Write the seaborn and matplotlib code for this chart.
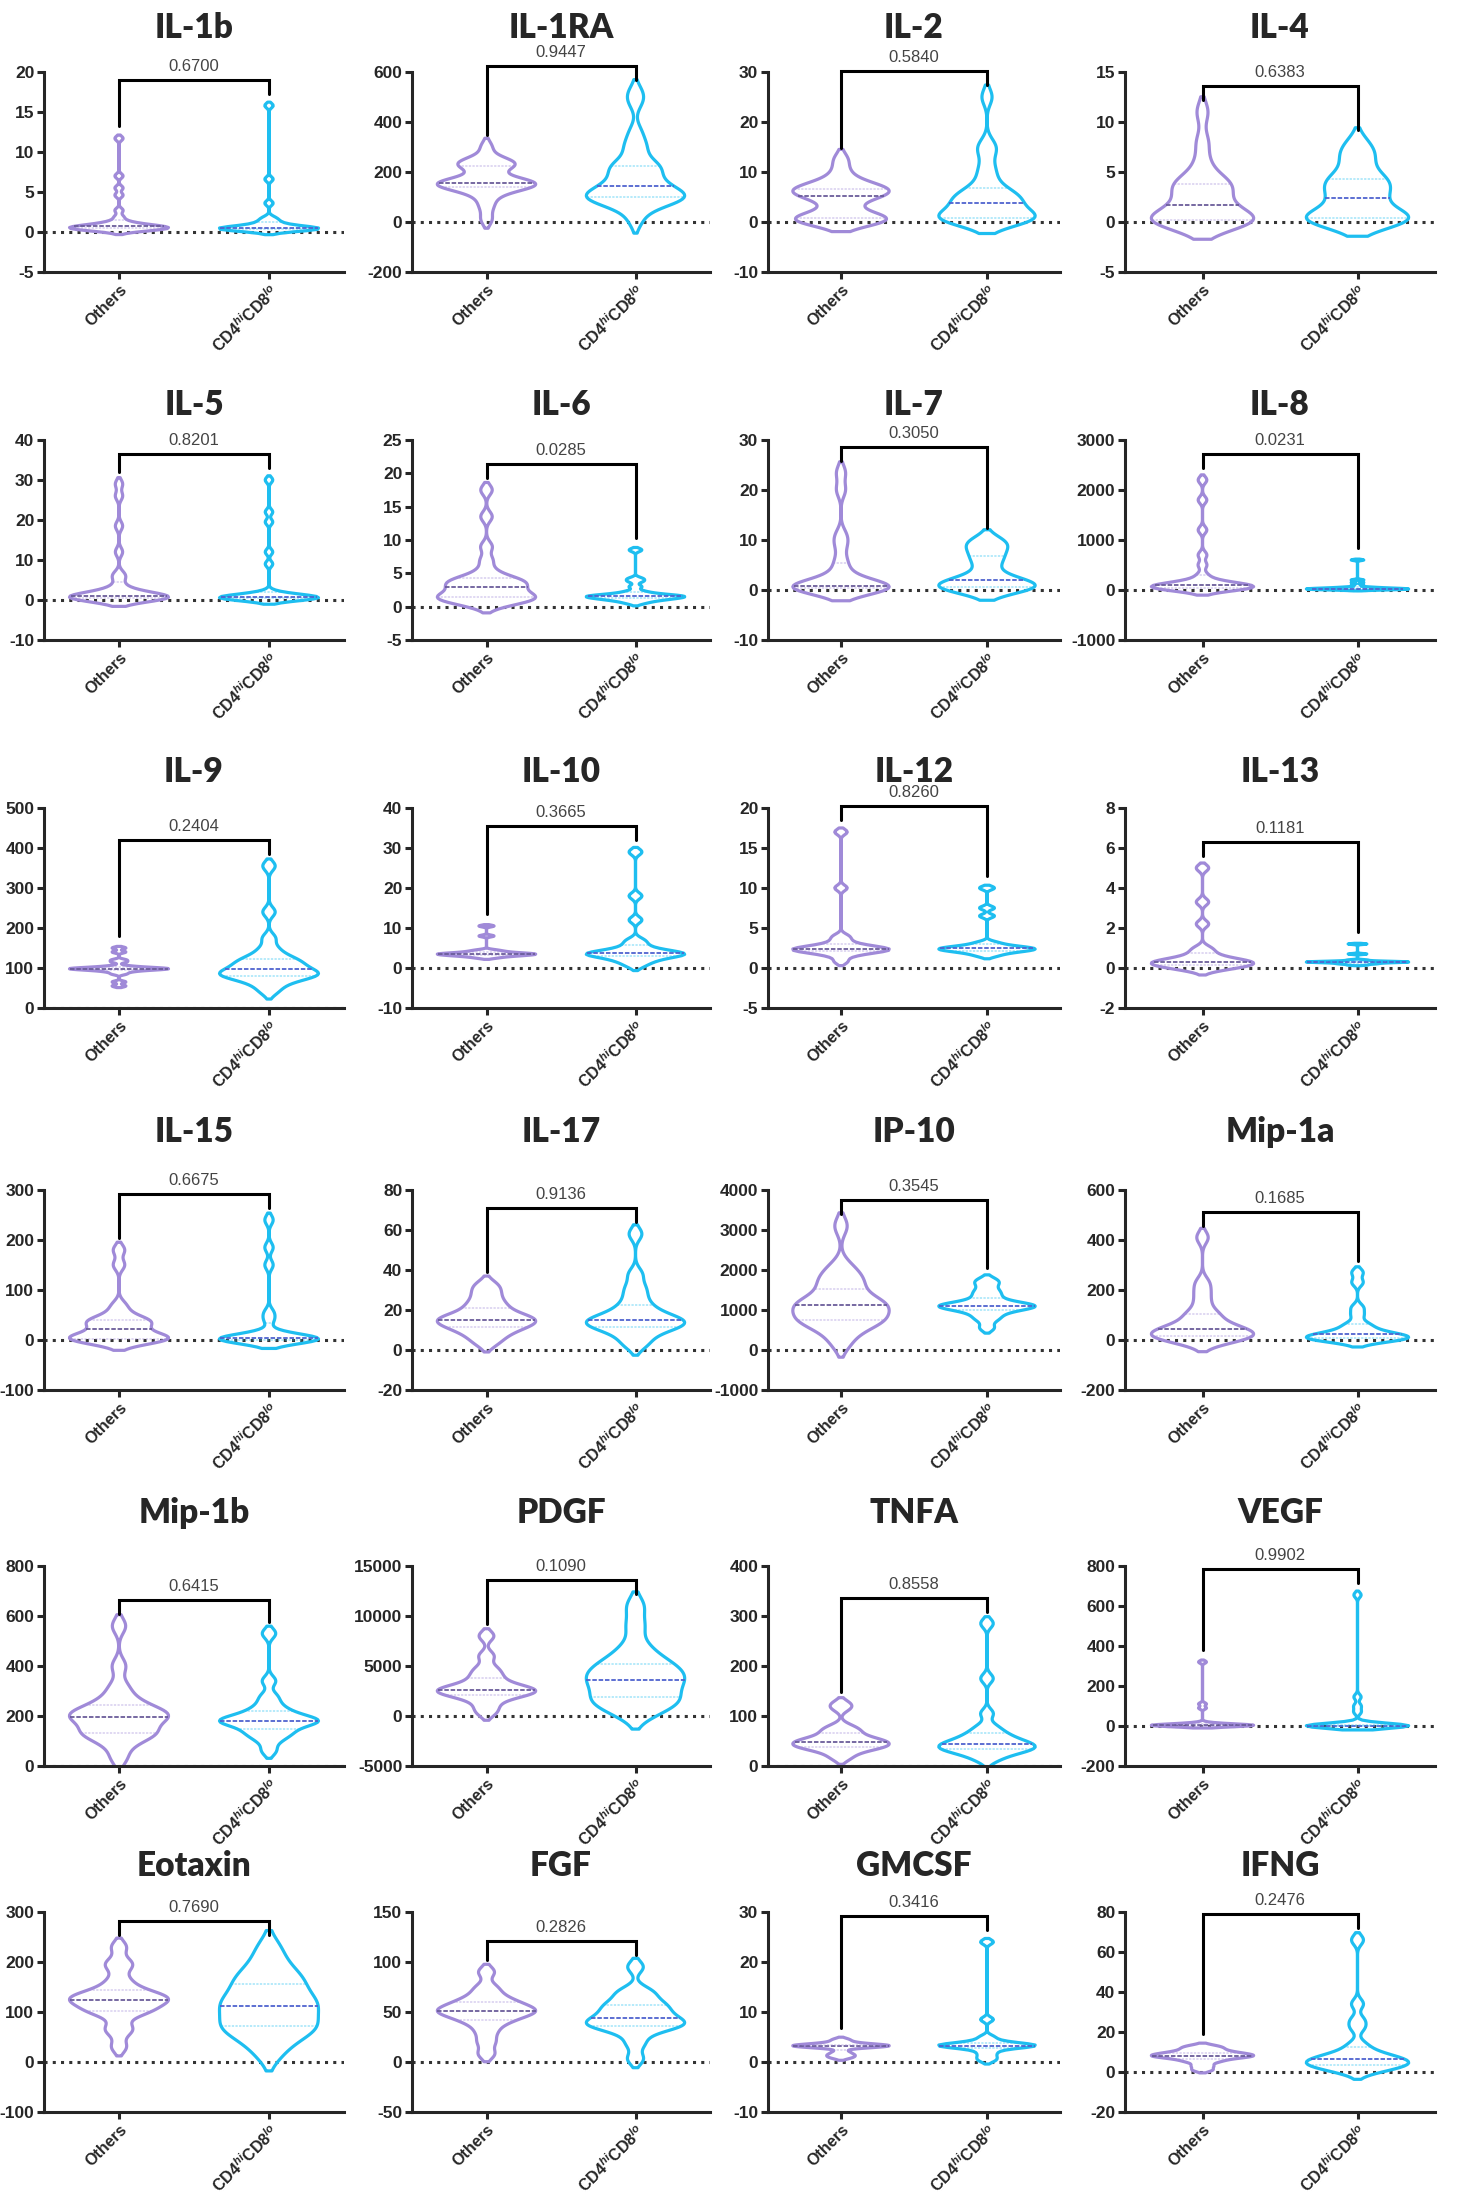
import numpy as np
import pandas as pd
import seaborn as sns
import matplotlib.pyplot as plt

# panels, left to right, top to bottom
names = ["IL-1b", "IL-1RA", "IL-2", "IL-4",
         "IL-5", "IL-6", "IL-7", "IL-8",
         "IL-9", "IL-10", "IL-12", "IL-13",
         "IL-15", "IL-17", "IP-10", "Mip-1a",
         "Mip-1b", "PDGF", "TNFA", "VEGF",
         "Eotaxin", "FGF", "GMCSF", "IFNG"]
pvals = ["0.6700", "0.9447", "0.5840", "0.6383",
         "0.8201", "0.0285", "0.3050", "0.0231",
         "0.2404", "0.3665", "0.8260", "0.1181",
         "0.6675", "0.9136", "0.3545", "0.1685",
         "0.6415", "0.1090", "0.8558", "0.9902",
         "0.7690", "0.2826", "0.3416", "0.2476"]
# (ymin, ymax, tick step)
yranges = [(-5, 20, 5), (-200, 600, 200), (-10, 30, 10), (-5, 15, 5),
           (-10, 40, 10), (-5, 25, 5), (-10, 30, 10), (-1000, 3000, 1000),
           (0, 500, 100), (-10, 40, 10), (-5, 20, 5), (-2, 8, 2),
           (-100, 300, 100), (-20, 80, 20), (-1000, 4000, 1000), (-200, 600, 200),
           (0, 800, 200), (-5000, 15000, 5000), (0, 400, 100), (-200, 800, 200),
           (-100, 300, 100), (-50, 150, 50), (-10, 30, 10), (-20, 80, 20)]
groups = ["Others", r"CD4$^{hi}$CD8$^{lo}$"]

others = [
    [0.1, 0.2, 0.3, 0.3, 0.4, 0.4, 0.5, 0.5, 0.5, 0.6, 0.6, 0.7, 0.7, 0.8, 0.9, 1.0, 1.1, 1.4, 1.9, 2.7, 4.6, 5.5, 7.0, 11.7],
    [10, 60, 95, 120, 135, 140, 145, 150, 150, 155, 158, 160, 165, 175, 215, 225, 230, 235, 240, 250, 300],
    [0.1, 0.2, 0.3, 0.5, 0.6, 0.8, 1.0, 2.5, 4.0, 5.0, 5.5, 5.8, 6.0, 6.2, 6.5, 7.0, 7.5, 8.0, 10.0, 12.5],
    [-0.2, 0, 0, 0, 0.1, 0.2, 0.3, 0.5, 1.0, 1.5, 1.9, 2.5, 3.0, 3.5, 3.8, 4.0, 4.5, 6.0, 8.0, 11.0],
    [0, 0.1, 0.2, 0.3, 0.4, 0.5, 0.6, 0.7, 0.8, 0.9, 1.0, 1.1, 1.3, 1.5, 2.0, 2.5, 3.5, 5.5, 6.5, 12.0, 18.5, 26.0, 29.0],
    [0.2, 0.5, 0.8, 1.0, 1.2, 1.3, 1.5, 1.6, 1.8, 2.0, 2.5, 2.9, 3.0, 3.2, 3.5, 3.8, 4.0, 4.2, 4.5, 5.5, 7.0, 9.0, 13.5, 17.5],
    [0, 0.1, 0.2, 0.3, 0.4, 0.5, 0.6, 0.7, 0.8, 1.0, 1.5, 2.5, 4.0, 6.0, 9.0, 11.0, 20.0, 23.5],
    [0, 10, 20, 30, 40, 50, 60, 70, 80, 90, 100, 110, 130, 150, 200, 300, 500, 700, 1200, 1800, 2200],
    [55, 65, 85, 90, 93, 95, 96, 97, 98, 98, 99, 100, 100, 102, 105, 115, 120, 140, 150],
    [2.5, 2.8, 3.0, 3.1, 3.2, 3.3, 3.4, 3.5, 3.5, 3.6, 3.7, 3.8, 4.0, 4.2, 4.5, 8.0, 10.5],
    [0.8, 1.5, 1.8, 2.0, 2.1, 2.2, 2.3, 2.3, 2.4, 2.5, 2.6, 2.8, 3.0, 3.5, 4.0, 10.0, 17.0],
    [-0.1, 0, 0.05, 0.1, 0.15, 0.2, 0.25, 0.3, 0.3, 0.35, 0.4, 0.5, 0.6, 0.8, 1.0, 2.2, 3.3, 5.0],
    [-5, 0, 0, 1, 2, 3, 5, 8, 12, 18, 25, 30, 35, 38, 40, 42, 55, 70, 150, 180],
    [3, 6, 8, 10, 11, 12, 13, 14, 15, 15, 16, 17, 18, 20, 22, 24, 27, 30, 33],
    [150, 400, 600, 700, 720, 750, 800, 900, 1050, 1100, 1130, 1150, 1200, 1300, 1500, 1650, 1750, 1900, 2100, 3100],
    [-10, 0, 5, 10, 15, 20, 25, 30, 40, 45, 50, 60, 80, 100, 110, 150, 190, 230, 410],
    [30, 80, 110, 125, 130, 135, 150, 170, 190, 195, 200, 205, 210, 220, 240, 250, 280, 320, 400, 560],
    [300, 1000, 1700, 2000, 2200, 2400, 2500, 2600, 2700, 2900, 3200, 3700, 4200, 4800, 6000, 8000],
    [15, 25, 32, 36, 38, 40, 42, 45, 48, 50, 52, 55, 60, 68, 72, 80, 115, 125],
    [0, 0, 0, 1, 1, 2, 2, 3, 4, 5, 5, 6, 8, 10, 15, 90, 110, 320],
    [30, 60, 70, 95, 100, 105, 110, 118, 122, 125, 128, 130, 135, 140, 150, 165, 190, 200, 230],
    [8, 20, 30, 38, 42, 45, 48, 50, 51, 52, 54, 57, 60, 62, 68, 75, 90],
    [0.8, 1.2, 1.5, 2.0, 2.8, 3.0, 3.1, 3.2, 3.2, 3.3, 3.4, 3.5, 3.6, 4.0, 4.5],
    [1, 3, 5, 6, 7, 7.5, 8, 8, 8.5, 9, 9.5, 10, 11, 12, 13],
]
cd4hi = [
    [0.1, 0.2, 0.3, 0.3, 0.3, 0.4, 0.4, 0.4, 0.5, 0.5, 0.5, 0.6, 0.7, 0.8, 1.0, 1.2, 1.5, 1.8, 3.6, 6.6, 15.8],
    [5, 50, 75, 85, 90, 95, 100, 100, 105, 110, 120, 135, 145, 155, 170, 190, 210, 220, 225, 240, 290, 310, 360, 480, 520],
    [0.1, 0.3, 0.4, 0.5, 0.7, 0.8, 1.0, 1.5, 2.0, 3.0, 3.5, 4.0, 4.5, 5.0, 5.5, 6.0, 7.0, 9.0, 11.0, 14.0, 15.5, 25.0],
    [0, 0, 0.1, 0.2, 0.3, 0.4, 0.5, 1.0, 1.5, 2.2, 2.6, 3.0, 3.5, 4.0, 4.2, 4.5, 5.5, 6.5, 7.0, 8.0],
    [0, 0.1, 0.2, 0.3, 0.4, 0.5, 0.5, 0.6, 0.7, 0.8, 0.8, 0.9, 1.0, 1.2, 1.5, 2.0, 9.0, 12.0, 19.5, 22.0, 30.0],
    [0.5, 0.8, 1.0, 1.1, 1.2, 1.3, 1.4, 1.5, 1.5, 1.6, 1.6, 1.7, 1.8, 2.0, 2.3, 3.0, 3.8, 4.2, 8.5],
    [0, 0.2, 0.4, 0.5, 0.6, 0.8, 1.0, 1.2, 2.0, 2.2, 3.0, 5.0, 6.0, 7.0, 8.0, 9.0, 9.5, 10.0],
    [0, 5, 10, 10, 15, 20, 20, 25, 30, 30, 35, 40, 50, 60, 100, 150, 200, 600],
    [40, 55, 65, 72, 78, 80, 82, 85, 88, 90, 95, 100, 105, 110, 115, 120, 125, 135, 150, 175, 240, 355],
    [0.5, 1.5, 2.0, 2.5, 3.0, 3.2, 3.4, 3.5, 3.6, 3.8, 4.0, 4.5, 5.0, 6.0, 7.0, 12.0, 18.0, 29.0],
    [1.5, 1.8, 2.0, 2.1, 2.2, 2.3, 2.4, 2.4, 2.5, 2.6, 2.7, 2.9, 3.2, 6.5, 7.5, 10.0],
    [0.15, 0.2, 0.22, 0.25, 0.27, 0.28, 0.3, 0.3, 0.3, 0.32, 0.33, 0.35, 0.4, 0.7, 1.2],
    [-3, 0, 0, 0, 1, 1, 2, 2, 3, 4, 5, 8, 15, 40, 55, 150, 185, 240],
    [2, 5, 8, 10, 11, 12, 13, 14, 14, 15, 16, 17, 19, 21, 24, 28, 32, 38, 58],
    [550, 750, 850, 950, 1000, 1050, 1080, 1100, 1100, 1120, 1150, 1200, 1300, 1400, 1500, 1650, 1750],
    [-5, 0, 2, 5, 8, 10, 12, 15, 20, 25, 30, 40, 55, 65, 100, 130, 230, 270],
    [60, 100, 120, 135, 140, 160, 170, 175, 180, 180, 185, 190, 200, 215, 225, 250, 280, 340, 530],
    [100, 800, 1200, 1500, 1800, 2200, 2800, 3300, 3500, 3800, 4200, 4600, 5000, 5300, 6000, 7000, 9000, 11000],
    [12, 20, 28, 30, 32, 35, 38, 40, 43, 45, 48, 52, 58, 62, 70, 80, 105, 175, 285],
    [0, 0, 0, 0, 0, 0, 0.5, 0.5, 1, 1, 1.5, 2, 2, 3, 70, 100, 145, 655],
    [15, 40, 55, 65, 70, 75, 85, 100, 110, 116, 120, 130, 145, 160, 165, 180, 200, 230],
    [3, 18, 28, 34, 36, 37, 38, 40, 43, 46, 48, 52, 56, 57, 62, 68, 72, 95],
    [0.3, 1.0, 1.8, 2.5, 3.0, 3.1, 3.2, 3.3, 3.3, 3.4, 3.5, 3.8, 4.2, 5.0, 8.5, 24.0],
    [0, 1, 2, 3, 3.5, 4, 4.5, 5, 6, 6.5, 7, 8, 9, 11, 14, 22, 26, 34, 66],
]

purple = "#A08AD8"
cyan = "#1EBEF0"
median_col = ["#6b5d9a", "#4f63cf"]

sns.set_style("ticks")
plt.rcParams["font.family"] = ["Liberation Sans", "DejaVu Sans"]
plt.rcParams["font.weight"] = "bold"
plt.rcParams["axes.unicode_minus"] = False
plt.rcParams["mathtext.fontset"] = "custom"
plt.rcParams["mathtext.rm"] = "Liberation Sans:bold"
plt.rcParams["mathtext.it"] = "Liberation Sans:italic"
plt.rcParams["mathtext.bf"] = "Liberation Sans:bold"


def bw_rule(kde):
    # robust silverman with a floor, so outliers stay small bumps
    d = np.asarray(kde.dataset).ravel()
    sd = d.std(ddof=1)
    n = len(d)
    q75, q25 = np.percentile(d, [75, 25])
    a = min(sd, (q75 - q25) / 1.34) if q75 > q25 else sd
    h = max(0.75 * 0.9 * a * n ** -0.2, 0.15 * sd * n ** -0.2)
    return h / sd


W, H = 1463, 2199
row_bottom = [272, 640, 1008, 1390, 1766, 2112]
title_y = [28, 405, 772, 1132, 1513, 1866]
col_left = [44, 412, 768, 1125]
col_w = [300, 298, 292, 310]
ax_h = 200

fig = plt.figure(figsize=(W / 100, H / 100), dpi=100)

for i, name in enumerate(names):
    r, c = divmod(i, 4)
    ax = fig.add_axes([col_left[c] / W, 1 - row_bottom[r] / H, col_w[c] / W, ax_h / H])

    df = pd.DataFrame({
        "group": [groups[0]] * len(others[i]) + [groups[1]] * len(cd4hi[i]),
        "value": others[i] + cd4hi[i],
    })
    sns.violinplot(data=df, x="group", y="value", hue="group", palette=[purple, cyan],
                   fill=False, linewidth=2.3, inner="quart", inner_kws=dict(linewidth=1.3),
                   density_norm="width", width=0.66, cut=1.5, bw_method=bw_rule,
                   legend=False, ax=ax)

    # quartile lines faint, median dashed darker
    for k, ln in enumerate(ax.lines):
        if k % 3 == 1:
            ln.set_color(median_col[k // 3])
        else:
            ln.set_alpha(0.35)

    lo, hi, step = yranges[i]
    ax.set_ylim(lo, hi)
    ax.set_yticks(np.arange(lo, hi + step / 2, step))
    ax.set_xlim(-0.5, 1.5)
    ax.set_xlabel("")
    ax.set_ylabel("")
    sns.despine(ax=ax)
    for s in ["left", "bottom"]:
        ax.spines[s].set_linewidth(2.2)
    ax.tick_params(axis="both", width=2.2, length=5, pad=2)
    ax.tick_params(axis="y", labelsize=12.5)
    ax.tick_params(axis="x", labelsize=11.5)
    plt.setp(ax.get_xticklabels(), rotation=45, ha="right", rotation_mode="anchor")

    ax.axhline(0, color="#333333", lw=2.2, ls=(0, (1, 1.7)), zorder=0.5)

    # significance bracket
    span = hi - lo
    top = max(max(others[i]), max(cd4hi[i])) + 0.13 * span
    left_leg = max(others[i]) + 0.06 * span
    right_leg = max(cd4hi[i]) + 0.06 * span
    ax.plot([0, 0, 1, 1], [left_leg, top, top, right_leg], color="black", lw=2.2,
            clip_on=False, solid_joinstyle="miter")
    ax.annotate(pvals[i], xy=(0.5, top), xytext=(0, 4), textcoords="offset points",
                ha="center", va="bottom", fontsize=12, fontweight="normal", color="#444444",
                annotation_clip=False)

    fig.text((col_left[c] + col_w[c] / 2) / W, 1 - title_y[r] / H, name,
             ha="center", va="center", fontsize=24, fontweight="heavy",
             family=["Lato", "DejaVu Sans"])

fig.savefig("out.png", dpi=100)
